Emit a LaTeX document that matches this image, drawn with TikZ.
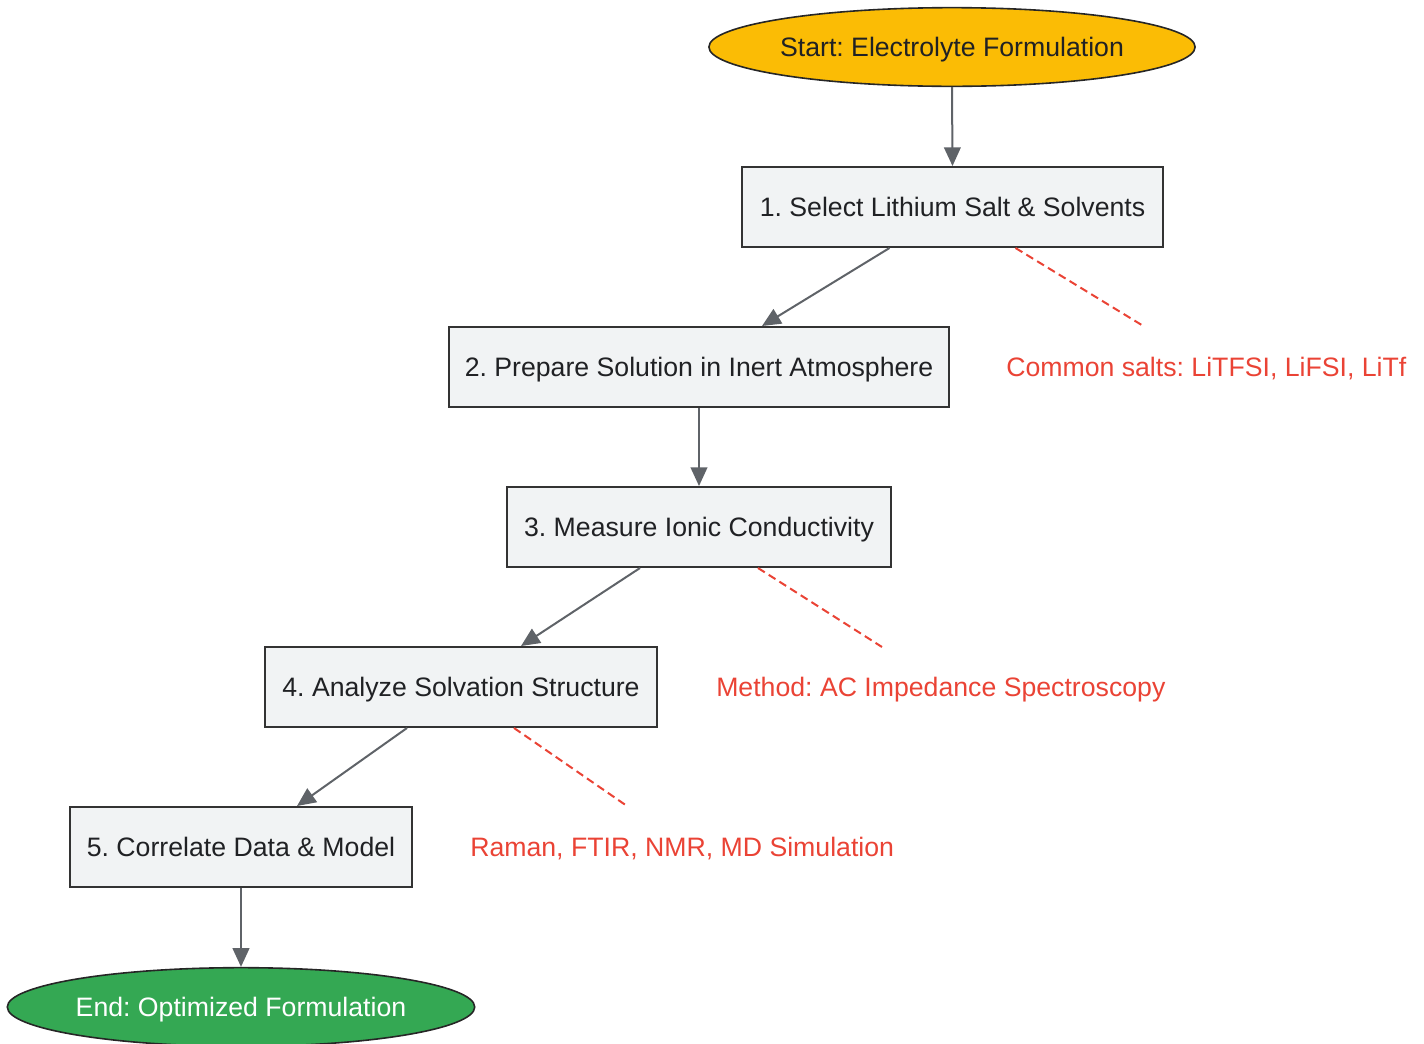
\documentclass[tikz,border=0pt]{standalone}
\usepackage{fontspec}
\setmainfont{Liberation Sans}
\frenchspacing
\usetikzlibrary{arrows.meta,shapes.geometric,calc}
\definecolor{boxfill}{HTML}{F1F3F4}
\definecolor{boxdraw}{HTML}{333333}
\definecolor{txt}{HTML}{202124}
\definecolor{arrowc}{HTML}{5F6368}
\definecolor{notered}{HTML}{EA4335}
\definecolor{startfill}{HTML}{FBBC05}
\definecolor{endfill}{HTML}{34A853}
\begin{document}
\begin{tikzpicture}[x=0.75pt,y=-0.75pt,
  every node/.style={font=\fontsize{20}{24}\selectfont, text=txt, text height=14.3pt, text depth=0pt},
  stepbox/.style={draw=boxdraw, fill=boxfill, line width=1.5pt, minimum height=60pt, inner xsep=12pt},
  terminal/.style={ellipse, draw=black!85, line width=1.2pt, minimum width=355pt, minimum height=59pt, inner sep=0pt},
  flow/.style={draw=arrowc, line width=1.5pt, -{Triangle[length=14pt,width=12.5pt]}},
  notelink/.style={draw=notered, line width=1.5pt, dash pattern=on 6pt off 3.5pt},
  notetext/.style={text=notered, anchor=west, inner sep=0pt}
]
\useasboundingbox (0,0) rectangle (1424,1043);
\node[terminal, fill=startfill] (start) at (952,47) {Start: Electrolyte Formulation};
\node[stepbox, minimum width=315.75pt] (s1) at (952.5,207) {1. Select Lithium Salt \& Solvents};
\node[stepbox, minimum width=375pt] (s2) at (699,367) {2. Prepare Solution in Inert Atmosphere};
\node[stepbox, minimum width=288pt] (s3) at (699,527) {3. Measure Ionic Conductivity};
\node[stepbox, minimum width=294pt] (s4) at (461,687) {4. Analyze Solvation Structure};
\node[stepbox, minimum width=256.5pt] (s5) at (241,847) {5. Correlate Data \& Model};
\node[terminal, fill=endfill, text=white, minimum width=345pt] (end) at (241,1007) {End: Optimized Formulation};

\node[notetext] (n1) at (1006,367) {Common salts: LiTFSI, LiFSI, LiTf};
\node[notetext] (n2) at (716,687) {Method: AC Impedance Spectroscopy};
\node[notetext] (n3) at (470,847) {Raman, FTIR, NMR, MD Simulation};

\coordinate (c1) at (1145,327);
\coordinate (c2) at (882,647);
\coordinate (c3) at (627,806);

\draw[flow] (start.south) -- (s1.north);
\draw[flow] ([xshift=-47.25pt]s1.south) -- ([xshift=47.25pt]s2.north);
\draw[flow] (s2.south) -- (s3.north);
\draw[flow] ([xshift=-44.25pt]s3.south) -- ([xshift=45pt]s4.north);
\draw[flow] ([xshift=-40.5pt]s4.south) -- ([xshift=42pt]s5.north);
\draw[flow] (s5.south) -- (end.north);

\draw[notelink] ([xshift=47.25pt]s1.south) -- (c1);
\draw[notelink] ([xshift=44.25pt]s3.south) -- (c2);
\draw[notelink] ([xshift=39.75pt]s4.south) -- (c3);
\end{tikzpicture}
\end{document}
